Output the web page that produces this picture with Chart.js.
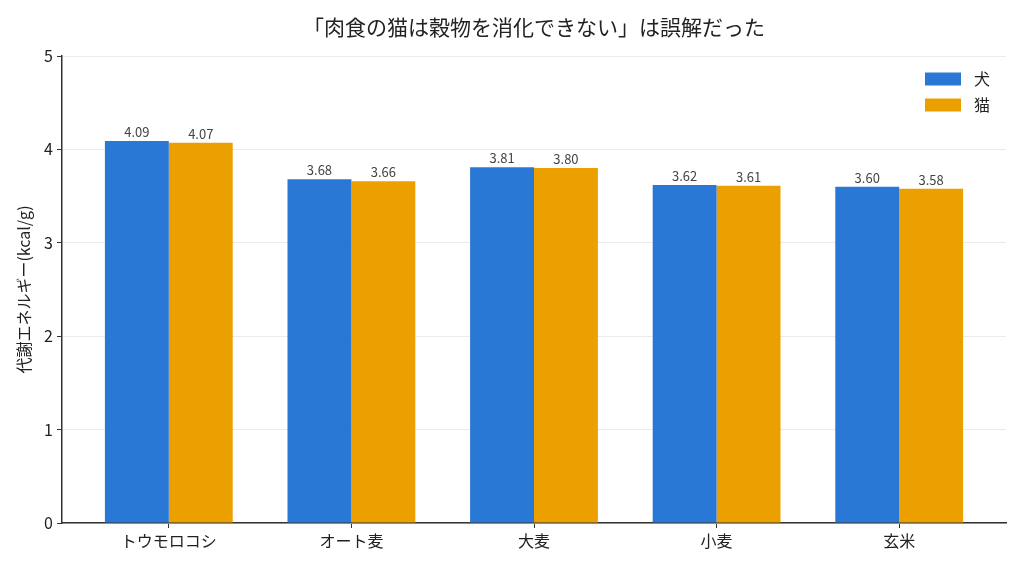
<!DOCTYPE html>
<html>
<head>
<meta charset="utf-8">
<script src="https://cdn.jsdelivr.net/npm/chart.js@4/dist/chart.umd.min.js"></script>
<style>
  html, body { margin: 0; padding: 0; background: #fff; }
  #wrap { width: 1024px; height: 569px; }
</style>
</head>
<body>
<div id="wrap"><canvas id="myChart"></canvas></div>
<script>
// データ
const categories = ['トウモロコシ', 'オート麦', '大麦', '小麦', '玄米'];
const dogValues = [4.09, 3.68, 3.81, 3.62, 3.60];
const catValues = [4.07, 3.66, 3.80, 3.61, 3.58];
const seriesNames = ['犬', '猫'];
const yTicks = [0, 1, 2, 3, 4, 5];

const FONT = "'Noto Sans CJK JP', 'Noto Sans', sans-serif";
const BLUE = '#2a78d6';
const ORANGE = '#eca000';

// 値ラベル(バーの上)
const valueLabels = {
    id: 'valueLabels',
    afterDatasetsDraw(chart) {
        const ctx = chart.ctx;
        ctx.save();
        ctx.font = '13px ' + FONT;
        ctx.fillStyle = '#444';
        ctx.textAlign = 'center';
        ctx.textBaseline = 'alphabetic';
        chart.data.datasets.forEach((ds, di) => {
            const meta = chart.getDatasetMeta(di);
            meta.data.forEach((bar, i) => {
                ctx.fillText(ds.data[i].y.toFixed(2), bar.x, bar.y - 4);
            });
        });
        ctx.restore();
    }
};

// 凡例(右上、グラフ内)
const insideLegend = {
    id: 'insideLegend',
    afterDraw(chart) {
        const ctx = chart.ctx;
        const area = chart.chartArea;
        ctx.save();
        ctx.font = '16px ' + FONT;
        ctx.textBaseline = 'middle';
        chart.data.datasets.forEach((ds, i) => {
            const y = area.top + 23 + i * 26;
            const x = area.right - 81;
            ctx.fillStyle = ds.backgroundColor;
            ctx.fillRect(x, y - 6.5, 36, 13);
            ctx.fillStyle = '#222';
            ctx.fillText(ds.label, x + 49, y);
        });
        ctx.restore();
    }
};

function toPoints(values) {
    return values.map((v, i) => ({ x: i, y: v }));
}

let ctx = document.getElementById('myChart');
let myChart = new Chart(ctx, {
    type: 'bar',
    data: {
        datasets: [{
            label: seriesNames[0],
            data: toPoints(dogValues),
            backgroundColor: BLUE,
            borderWidth: 0,
        }, {
            label: seriesNames[1],
            data: toPoints(catValues),
            backgroundColor: ORANGE,
            borderWidth: 0,
        }]
    },
    options: {
        responsive: true,
        maintainAspectRatio: false,
        animation: false,
        categoryPercentage: 0.7,
        barPercentage: 1.0,
        layout: {
            padding: { left: 0, right: 18, top: 0, bottom: 0 },
        },
        plugins: {
            legend: { display: false },
            tooltip: { enabled: false },
            title: {
                display: true,
                fullSize: false,
                text: '「肉食の猫は穀物を消化できない」は誤解だった',
                color: '#222',
                font: { family: FONT, size: 21, weight: 'normal' },
                padding: { top: 14, bottom: 16.8 },
            },
        },
        scales: {
            x: {
                type: 'linear',
                offset: false,
                min: -0.585,
                max: 4.585,
                afterBuildTicks: (scale) => {
                    scale.ticks = categories.map((c, i) => ({ value: i }));
                },
                afterFit: (scale) => { scale.height = 46; },
                ticks: {
                    autoSkip: false,
                    maxRotation: 0,
                    padding: 3,
                    color: '#222',
                    font: { family: FONT, size: 16 },
                    callback: (value) => categories[value],
                },
                grid: {
                    offset: false,
                    drawOnChartArea: false,
                    drawTicks: true,
                    tickLength: 5,
                    tickColor: '#333',
                },
                border: { color: '#333', width: 1.5 },
            },
            y: {
                min: 0,
                max: 5,
                afterBuildTicks: (scale) => {
                    scale.ticks = yTicks.map(v => ({ value: v }));
                },
                afterFit: (scale) => { scale.width = 62; },
                ticks: {
                    padding: 4,
                    color: '#222',
                    font: { family: FONT, size: 16 },
                },
                grid: {
                    color: '#ebebeb',
                    lineWidth: 1,
                    drawTicks: true,
                    tickLength: 5,
                    tickColor: '#333',
                },
                border: { color: '#333', width: 1.5 },
                title: {
                    display: true,
                    text: '代謝エネルギー(kcal/g)',
                    color: '#222',
                    font: { family: FONT, size: 16 },
                    padding: { top: 14, bottom: 4 },
                },
            },
        },
    },
    plugins: [valueLabels, insideLegend],
});
</script>
</body>
</html>
